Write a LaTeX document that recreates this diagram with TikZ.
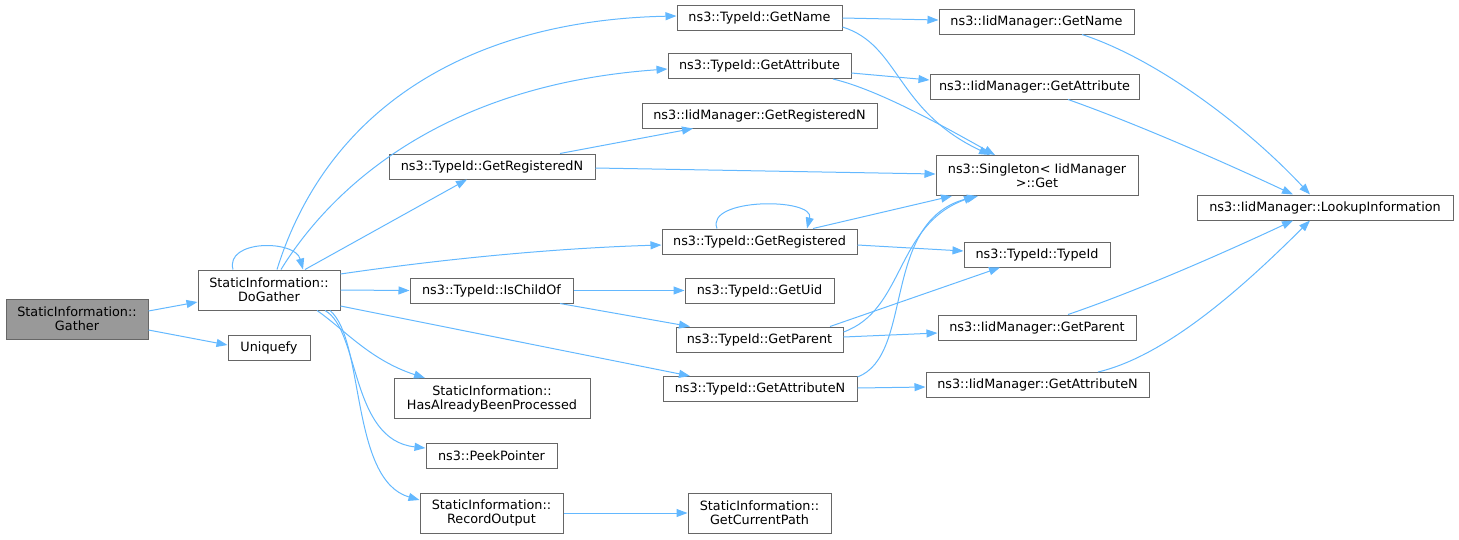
\documentclass[tikz,border=0pt]{standalone}
\usepackage{fontspec}
\setmainfont{DejaVu Sans}
\usepackage{tikz}
\usetikzlibrary{arrows.meta,positioning}
\definecolor{callblue}{HTML}{63B8FF}
\definecolor{boxgray}{HTML}{666666}
\definecolor{rootgray}{HTML}{999999}
\tikzset{
  box/.style={draw=boxgray, fill=white, line width=1pt, inner sep=0pt, align=center,
    minimum height=25pt, font=\fontsize{12.8pt}{14pt}\selectfont},
  tallbox/.style={box, minimum height=40pt},
  rootbox/.style={tallbox, fill=rootgray},
  call/.style={draw=callblue, line width=1pt, -{Triangle[length=11pt,width=8pt]}}
}
\begin{document}
\begin{tikzpicture}[x=1pt, y=-1pt]
    \useasboundingbox (0,0) rectangle (1459,539);

    \node[rootbox, minimum width=142pt] (gat) at (77,319) {StaticInformation::\\Gather};
    \node[tallbox, minimum width=142pt] (dog) at (269,290) {StaticInformation::\\DoGather};
    \node[box, minimum width=82pt] (uni) at (269,347.5) {Uniquefy};

    \node[box, minimum width=206pt] (tgrn) at (492,166.5) {ns3::TypeId::GetRegisteredN};
    \node[box, minimum width=163pt] (ico) at (491.5,290.5) {ns3::TypeId::IsChildOf};
    \node[tallbox, minimum width=196pt] (hab) at (492,398.5) {StaticInformation::\\HasAlreadyBeenProcessed};
    \node[box, minimum width=131pt] (pkp) at (491.5,456) {ns3::PeekPointer};
    \node[tallbox, minimum width=143pt] (rec) at (491.5,513) {StaticInformation::\\RecordOutput};

    \node[box, minimum width=165pt] (tgn) at (759.5,17.5) {ns3::TypeId::GetName};
    \node[box, minimum width=183pt] (tga) at (759.5,66) {ns3::TypeId::GetAttribute};
    \node[box, minimum width=235pt] (igrn) at (759.5,115.5) {ns3::IidManager::GetRegisteredN};
    \node[box, minimum width=195pt] (tgr) at (759.5,241.5) {ns3::TypeId::GetRegistered};
    \node[box, minimum width=149pt] (uid) at (759.5,290.5) {ns3::TypeId::GetUid};
    \node[box, minimum width=167pt] (tgp) at (759.5,339.5) {ns3::TypeId::GetParent};
    \node[box, minimum width=194pt] (tgan) at (760,389) {ns3::TypeId::GetAttributeN};
    \node[tallbox, minimum width=143pt] (gcp) at (759.5,513) {StaticInformation::\\GetCurrentPath};

    \node[box, minimum width=195pt] (ign) at (1036.5,21.5) {ns3::IidManager::GetName};
    \node[box, minimum width=209pt] (iga) at (1034.5,86.5) {ns3::IidManager::GetAttribute};
    \node[tallbox, minimum width=202pt] (sgl) at (1037,175.5) {ns3::Singleton< IidManager\\>::Get};
    \node[box, minimum width=146pt] (tti) at (1037,254.5) {ns3::TypeId::TypeId};
    \node[box, minimum width=198pt] (igp) at (1037,327.5) {ns3::IidManager::GetParent};
    \node[box, minimum width=223pt] (igan) at (1037.5,385) {ns3::IidManager::GetAttributeN};

    \node[box, minimum width=256pt] (lku) at (1325,207.5) {ns3::IidManager::LookupInformation};

    \draw[call] ([yshift=8pt]gat.east) -- ([yshift=-12pt]dog.west);
    \draw[call] ([yshift=-11pt]gat.east) -- ([yshift=2.5pt]uni.west);

    \draw[call] ([xshift=-36pt]dog.north) .. controls +(-8,-30) and +(-8,-30) .. ([xshift=34pt]dog.north);
    \draw[call] ([xshift=8pt]dog.north) .. controls (330,100) and (480,20) .. ([yshift=1.5pt]tgn.west);
    \draw[call] ([xshift=12pt]dog.north) .. controls (330,190) and (440,85) .. ([yshift=-3pt]tga.west);
    \draw[call] ([xshift=36pt]dog.north) -- ([xshift=-25pt]tgrn.south);
    \draw[call] ([yshift=16pt]dog.east) .. controls (450,258) and (560,248) .. ([yshift=-3.5pt]tgr.west);
    \draw[call] (dog.east) -- (ico.west);
    \draw[call] ([yshift=-16pt]dog.east) -- ([xshift=-70pt]tgan.north);
    \draw[call] ([xshift=48pt]dog.south) .. controls (345,330) and (370,360) .. ([xshift=-67pt]hab.north);
    \draw[call] ([xshift=56pt]dog.south) .. controls (360,330) and (350,440) .. ([yshift=8pt]pkp.west);
    \draw[call] ([xshift=61pt]dog.south) .. controls (365,340) and (350,480) .. ([yshift=13pt]rec.west);

    \draw[call] ([yshift=-0.5pt]tgn.east) -- ([yshift=1.5pt]ign.west);
    \draw[call] ([yshift=-9.5pt]tgn.east) .. controls (900,45) and (895,110) .. ([xshift=-47pt]sgl.north);
    \draw[call] ([yshift=-7pt]tga.east) -- ([yshift=6.5pt]iga.west);
    \draw[call] ([xshift=73.5pt]tga.south) .. controls (880,90) and (950,130) .. ([xshift=-42pt]sgl.north);
    \draw[call] ([xshift=68pt]tgrn.north) -- ([xshift=-66.5pt]igrn.south);
    \draw[call] ([yshift=-1.5pt]tgrn.east) -- ([yshift=1.5pt]sgl.west);
    \draw[call] ([xshift=-42.5pt]tgr.north) .. controls +(-12,-31) and +(8,-31) .. ([xshift=47.5pt]tgr.north);
    \draw[call] ([xshift=53.5pt]tgr.north) -- ([xshift=-85pt]sgl.south);
    \draw[call] ([yshift=-3.5pt]tgr.east) -- ([yshift=3.5pt]tti.west);
    \draw[call] (ico.east) -- (uid.west);
    \draw[call] ([xshift=68.5pt]ico.south) -- ([xshift=-69.5pt]tgp.north);
    \draw[call] ([xshift=70.5pt]tgp.north) -- ([xshift=-37pt]tti.south);
    \draw[call] ([yshift=7.5pt]tgp.east) .. controls (905,310) and (895,225) .. ([xshift=-62pt]sgl.south);
    \draw[call] ([yshift=2.5pt]tgp.east) -- ([yshift=-5.5pt]igp.west);
    \draw[call] ([yshift=12pt]tgan.east) .. controls (915,355) and (880,220) .. ([xshift=-59pt]sgl.south);
    \draw[call] ([yshift=1pt]tgan.east) -- ([yshift=-2pt]igan.west);
    \draw[call] (rec.east) -- (gcp.west);

    \draw[call] ([xshift=45.5pt]ign.south) .. controls (1160,60) and (1250,130) .. ([xshift=-15pt]lku.north);
    \draw[call] ([xshift=33.5pt]iga.south) .. controls (1140,125) and (1230,165) .. ([xshift=-32pt]lku.north);
    \draw[call] ([xshift=31pt]igp.north) .. controls (1140,290) and (1230,250) .. ([xshift=-32pt]lku.south);
    \draw[call] ([xshift=60.5pt]igan.north) .. controls (1170,355) and (1250,280) .. ([xshift=-15pt]lku.south);
\end{tikzpicture}
\end{document}
